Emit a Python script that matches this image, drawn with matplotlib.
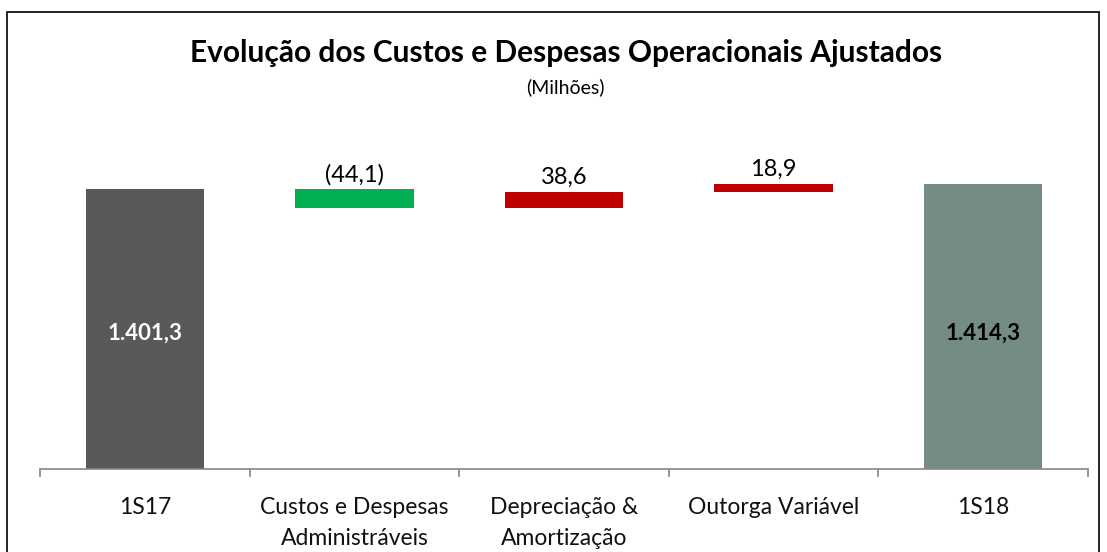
import matplotlib
matplotlib.use('Agg')
import matplotlib.pyplot as plt
from matplotlib.patches import Rectangle

plt.rcParams['font.family'] = ['Lato', 'DejaVu Sans']

# ### data
categories = ['1S17', 'Custos e Despesas\nAdministráveis', 'Depreciação &\nAmortização',
              'Outorga Variável', '1S18']
values = [1401.3, -44.1, 38.6, 18.9, 1414.3]
is_total = [True, False, False, False, True]
labels = ['1.401,3', '(44,1)', '38,6', '18,9', '1.414,3']
colors = ['#595959', '#00B050', '#C00000', '#C00000', '#748C84']

fig = plt.figure(figsize=(11.07, 5.52), dpi=100)
ax = fig.add_axes([40 / 1107, 1 - 469 / 552, 1048 / 1107, 339 / 552])

# ### waterfall bottoms / heights
running = 0
bottoms, heights = [], []
for v, tot in zip(values, is_total):
    if tot:
        bottoms.append(0)
        heights.append(v)
        running = v
    else:
        bottoms.append(min(running, running + v))
        heights.append(abs(v))
        running += v

x = range(len(categories))
ax.bar(x, heights, bottom=bottoms, width=0.565, color=colors, zorder=2)

for i, (b, h, lab, tot) in enumerate(zip(bottoms, heights, labels, is_total)):
    if tot:
        tcol = 'white' if i == 0 else 'black'
        ax.text(i, 1064, lab, ha='center', va='center', fontsize=16,
                fontweight='bold', color=tcol)
    else:
        ax.text(i, b + h + 9, lab, ha='center', va='bottom', fontsize=17,
                color='black')

ax.set_xlim(-0.5, len(categories) - 0.5)
ax.set_ylim(745, 1541)
ax.set_yticks([])
for s in ['left', 'right', 'top']:
    ax.spines[s].set_visible(False)
ax.spines['bottom'].set_color('#868686')
ax.spines['bottom'].set_linewidth(1.2)

ax.set_xticks(list(x))
ax.set_xticklabels(categories, fontsize=16.5, color='#111111', linespacing=1.62)
ax.tick_params(axis='x', which='major', length=0, pad=20)
ax.set_xticks([i - 0.5 for i in range(len(categories) + 1)], minor=True)
ax.tick_params(axis='x', which='minor', length=6, width=1.2, color='#868686',
               direction='out')

fig.text(566 / 1107, 1 - 53 / 552, 'Evolução dos Custos e Despesas Operacionais Ajustados',
         ha='center', va='center', fontsize=21.5, fontweight='bold')
fig.text(565 / 1107, 1 - 87 / 552, '(Milhões)', ha='center', va='center', fontsize=14)

# ### outer frame (bottom edge cut off in the reference)
fig.patches.append(Rectangle((7 / 1107, -0.05), 1092 / 1107, 1.05 - 12 / 552,
                             transform=fig.transFigure, fill=False,
                             edgecolor='black', linewidth=1.2))

fig.savefig('out.png', dpi=100)
